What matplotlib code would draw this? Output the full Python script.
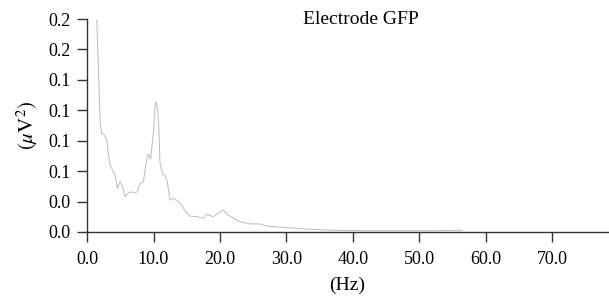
import numpy as np
import matplotlib
matplotlib.use("Agg")
from matplotlib import pyplot as plt

# spectrum (Hz, uV^2)
freq = [1.46, 1.7, 1.95, 2.2, 2.56, 2.96, 3.46, 3.96, 4.2, 4.56, 4.96, 5.37, 5.7,
        6.2, 6.7, 7.07, 7.57, 7.97, 8.47, 8.87, 9.2, 9.57, 9.97, 10.3, 10.6, 10.8,
        10.98, 11.4, 11.7, 12.07, 12.5, 12.98, 13.5, 14.0, 14.5, 15.0, 15.5, 16.5,
        17.5, 18.0, 19.0, 19.7, 20.5, 21.2, 22.0, 23.0, 24.5, 26.0, 27.0, 30.0,
        33.5, 37.0, 42.0, 47.0, 52.0, 56.5]
power = [0.1743, 0.136, 0.092, 0.081, 0.080, 0.0757, 0.055, 0.0496, 0.047, 0.036,
         0.0414, 0.037, 0.029, 0.032, 0.033, 0.032, 0.033, 0.040, 0.041, 0.0565,
         0.064, 0.060, 0.081, 0.107, 0.103, 0.0866, 0.0565, 0.047, 0.047, 0.041,
         0.026, 0.0277, 0.026, 0.0236, 0.0195, 0.0154, 0.013, 0.0126, 0.0113,
         0.0146, 0.0126, 0.0154, 0.018, 0.014, 0.0113, 0.0085, 0.0066, 0.0066,
         0.0049, 0.0035, 0.0022, 0.0014, 0.001, 0.001, 0.001, 0.0014]

yticks = [0, 0.025, 0.05, 0.075, 0.1, 0.125, 0.15, 0.175]
ytick_labels = ['0.0', '0.0', '0.1', '0.1', '0.1', '0.1', '0.2', '0.2']
xticks = [0, 10, 20, 30, 40, 50, 60, 70]
xtick_labels = ['0.0', '10.0', '20.0', '30.0', '40.0', '50.0', '60.0', '70.0']

plt.rcParams['font.family'] = ['Liberation Serif', 'DejaVu Serif']
plt.rcParams['mathtext.fontset'] = 'stix'

fig = plt.figure(figsize=(6.09, 3.02), dpi=100)
ax = fig.add_axes([0.143, 0.232, 0.855, 0.705])
ax.plot(freq, power, color='#bbbbbb', lw=0.7)

ax.set_xlim(0, 78.4)
ax.set_ylim(0, 0.175)
ax.set_xticks(xticks)
ax.set_xticklabels(xtick_labels)
ax.set_yticks(yticks)
ax.set_yticklabels(ytick_labels)
ax.tick_params(labelsize=13, length=7, width=1, color='#333333')
ax.tick_params(axis='y', pad=5)
ax.tick_params(axis='x', pad=7)

for s in ['top', 'right']:
    ax.spines[s].set_visible(False)
for s in ['left', 'bottom']:
    ax.spines[s].set_color('#333333')
    ax.spines[s].set_linewidth(1)

ax.set_xlabel('(Hz)', fontsize=14, labelpad=6)
ax.set_ylabel(r'$(\mu\mathrm{V}^2)$', fontsize=15, labelpad=6)
ax.text(0.526, 1.0, 'Electrode GFP', transform=ax.transAxes, fontsize=14,
        ha='center', va='center')

plt.savefig('out.png', dpi=100)
